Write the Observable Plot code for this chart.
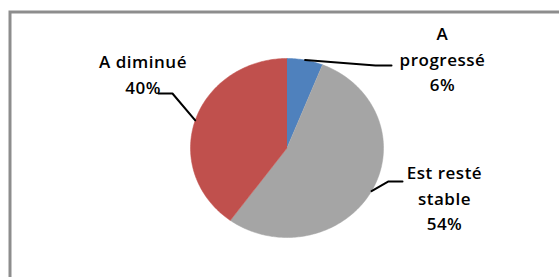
<!DOCTYPE html>
<html><head><meta charset="utf-8">
<script src="https://cdn.jsdelivr.net/npm/d3@7"></script>
<script src="https://cdn.jsdelivr.net/npm/@observablehq/plot@0.6"></script>
<style>
body{margin:0;background:#fff;overflow:hidden}
#chart text{letter-spacing:0.5px}
</style>
</head><body><div id="chart"></div>
<script>
// data
const categories = ["A progressé", "Est resté stable", "A diminué"];
const labelLines = ["A\nprogressé", "Est resté\nstable", "A diminué"];
const percents = [6, 54, 40];
const colors = ["#4f81bd", "#a5a5a5", "#c0504d"];

// layout, in unit coordinates of the pie (radius = 1)
const labelPos = [[1.611, 1.01], [1.632, -0.545], [-1.492, 0.84]];
const leaderBends = [
  [[0.917, 0.922], [1.083, 0.922]],
  [[1.052, -0.374], [1.197, -0.374]],
  [[-1.187, 0.609], [-1.332, 0.609]]
];

const arcs = d3.pie().sort(null).value(d => d)(percents);
const slices = [];
const leaders = [];
const labels = [];
arcs.forEach((a, i) => {
  const c = categories[i];
  slices.push({c, x: 0, y: 0});
  const n = Math.max(2, Math.ceil((a.endAngle - a.startAngle) / (Math.PI / 180)));
  for (let k = 0; k <= n; k++) {
    const t = a.startAngle + (a.endAngle - a.startAngle) * k / n;
    slices.push({c, x: Math.sin(t), y: Math.cos(t)});
  }
  const mid = (a.startAngle + a.endAngle) / 2;
  leaders.push({c, x: Math.sin(mid), y: Math.cos(mid)});
  leaderBends[i].forEach(([x, y]) => leaders.push({c, x, y}));
  labels.push({x: labelPos[i][0], y: labelPos[i][1], text: labelLines[i] + "\n" + percents[i] + "%"});
});

const chart = Plot.plot({
  width: 559, height: 277,
  marginLeft: 190, marginRight: 176, marginTop: 58, marginBottom: 40,
  x: {domain: [-1, 1], axis: null},
  y: {domain: [-1, 1], axis: null},
  color: {domain: categories, range: colors},
  style: {fontFamily: "'Open Sans', sans-serif", fontSize: "17px", background: "white"},
  marks: [
    Plot.frame({stroke: "#8d8d8d", strokeWidth: 3, insetLeft: -180.5, insetTop: -46.5, insetRight: -200, insetBottom: -100}),
    Plot.line(slices, {x: "x", y: "y", z: "c", fill: "c", stroke: "c", strokeWidth: 0.5}),
    Plot.line(leaders, {x: "x", y: "y", z: "c", stroke: "#000", strokeWidth: 2}),
    Plot.text(labels, {x: "x", y: "y", text: "text", textAnchor: "middle", lineAnchor: "middle", lineHeight: 1.5, fill: "#000", fontSize: 17, fontWeight: 600})
  ]
});
document.getElementById("chart").appendChild(chart);
</script>
</body></html>
